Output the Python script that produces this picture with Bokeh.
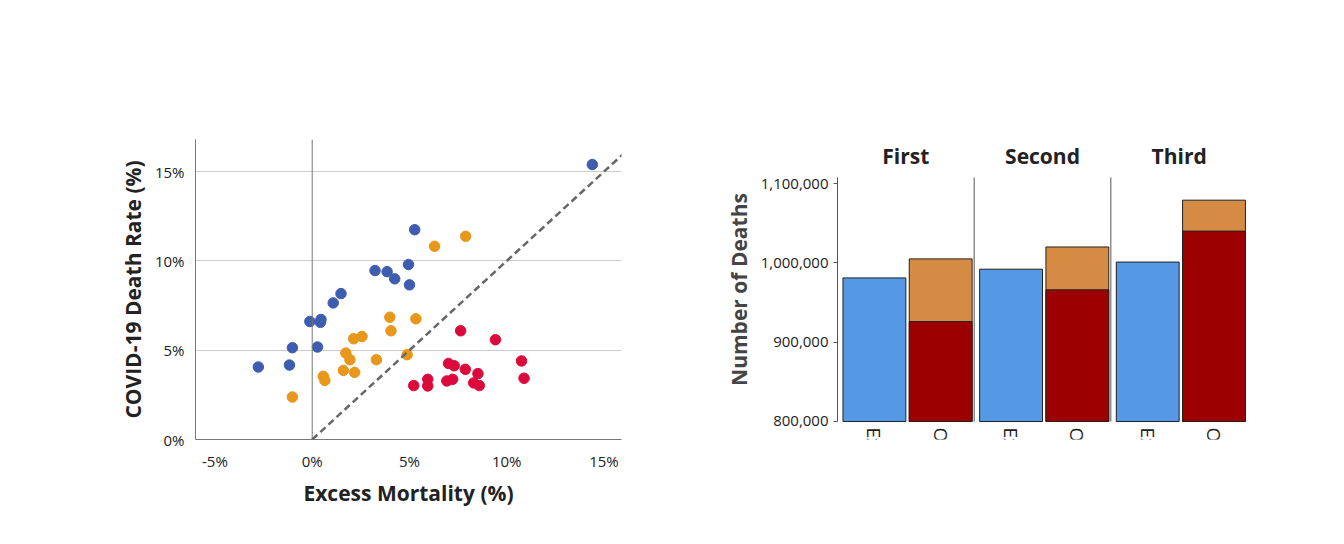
import math
from bokeh.plotting import figure
from bokeh.layouts import row
from bokeh.models import (Span, Label, Legend, LegendItem,
                          FixedTicker, NumeralTickFormatter, Range1d, Slope)
from bokeh.embed import file_html
from bokeh.resources import INLINE

FONT = "Open Sans"

# ---- Panel A data: excess mortality (%) vs COVID-19 death rate (%)
y1_x = [14.4, 5.27, 3.23, 3.85, 4.24, 4.95, 5.0, 1.48, 1.08, -0.12, 0.45, 0.42, -1.02, 0.27, -2.77, -1.17]
y1_y = [15.4, 11.75, 9.46, 9.40, 9.0, 9.8, 8.66, 8.17, 7.65, 6.61, 6.72, 6.56, 5.14, 5.18, 4.06, 4.17]
y2_x = [7.89, 6.29, 3.99, 5.33, 4.05, 2.13, 2.56, 1.73, 1.94, 3.30, 4.88, 1.60, 2.18, 0.57, 0.65, -1.02]
y2_y = [11.38, 10.82, 6.85, 6.76, 6.09, 5.64, 5.77, 4.84, 4.47, 4.47, 4.75, 3.87, 3.76, 3.54, 3.31, 2.38]
y3_x = [7.63, 9.42, 10.76, 10.89, 7.01, 7.30, 7.87, 8.52, 5.94, 5.94, 5.22, 6.92, 7.22, 8.30, 8.59]
y3_y = [6.09, 5.59, 4.40, 3.43, 4.26, 4.13, 3.93, 3.69, 3.37, 3.00, 3.02, 3.28, 3.37, 3.17, 3.02]
a_xticks = [-5, 0, 5, 10, 15]
a_yticks = [0, 5, 10, 15]

# ---- Panel B data
years = ["First", "Second", "Third"]
bar_names = ["Expected", "Observed"]
expected = [981000, 992000, 1001000]
observed_noncovid = [926000, 966000, 1040000]
observed_total = [1005000, 1020000, 1079000]
b_yticks = [800000, 900000, 1000000, 1100000]

BLUE, ORANGE, RED = "#3f5db0", "#e8971b", "#dc0a3c"

# ================= Panel A
pa = figure(width=652, height=528, output_backend="svg", toolbar_location=None,
            x_range=Range1d(-6.0, 15.9), y_range=Range1d(0, 16.8),
            min_border_left=195, min_border_right=31, min_border_top=139, min_border_bottom=89)
pa.outline_line_color = None
pa.xgrid.grid_line_color = None
pa.ygrid.grid_line_color = "#cccccc"
pa.ygrid.ticker = FixedTicker(ticks=a_yticks)
pa.xaxis.ticker = FixedTicker(ticks=a_xticks)
pa.yaxis.ticker = FixedTicker(ticks=a_yticks)
pa.xaxis.major_label_overrides = {t: f"{t}%" for t in a_xticks}
pa.yaxis.major_label_overrides = {t: f"{t}%" for t in a_yticks}
for ax in (pa.xaxis, pa.yaxis):
    ax.major_tick_line_color = None
    ax.minor_tick_line_color = None
    ax.axis_line_color = "#777777"
    ax.major_label_text_font = FONT
    ax.major_label_text_font_size = "15px"
    ax.major_label_text_color = "#222222"
    ax.axis_label_text_font = FONT
    ax.axis_label_text_font_size = "21px"
    ax.axis_label_text_font_style = "bold"
    ax.axis_label_text_color = "#222222"
pa.xaxis.axis_label = "Excess Mortality (%)"
pa.yaxis.axis_label = "COVID-19 Death Rate (%)"
pa.add_layout(Span(location=0, dimension="height", line_color="#777777", line_width=1))
pa.add_layout(Slope(gradient=1, y_intercept=0, line_color="#666666", line_width=2.5, line_dash="7 4"))
r1 = pa.scatter(y1_x, y1_y, size=10.5, color=BLUE)
r2 = pa.scatter(y2_x, y2_y, size=10.5, color=ORANGE)
r3 = pa.scatter(y3_x, y3_y, size=10.5, color=RED)
lega = Legend(items=[LegendItem(label="First Pandemic Year", renderers=[r1]),
                     LegendItem(label="Second Pandemic Year", renderers=[r2]),
                     LegendItem(label="Third Pandemic Year", renderers=[r3])],
              location=(70, 325), margin=0, padding=0, spacing=10, glyph_width=20, glyph_height=22,
              label_standoff=6, label_text_font=FONT, label_text_font_size="20px",
              label_text_color="#222222", border_line_color=None, background_fill_alpha=0)
pa.add_layout(lega)
pa.add_layout(Label(x=-10.5, y=22.8, text="A", text_font=FONT, text_font_size="32px",
                    text_font_style="bold", text_align="center", text_baseline="middle"))

# ================= Panel B (same borders as A; y range padded so bars sit in the right place)
YB0, YB1 = 800000, 1107600
pb = figure(width=676, height=528, output_backend="svg", toolbar_location=None,
            x_range=Range1d(0, 3), y_range=Range1d(777300, 1155500),
            min_border_left=185, min_border_right=81, min_border_top=139, min_border_bottom=89)
pb.outline_line_color = None
pb.grid.grid_line_color = None
xe = [i + 0.27 for i in range(3)]
xo = [i + 0.755 for i in range(3)]
pb.vbar(x=xe, top=expected, bottom=YB0, width=0.46, fill_color="#5599e6", line_color="#222222", line_width=1)
rc = pb.vbar(x=xo, top=observed_total, bottom=YB0, width=0.46, fill_color="#d68b44", line_color="#222222", line_width=1)
rn = pb.vbar(x=xo, top=observed_noncovid, bottom=YB0, width=0.46, fill_color="#9c0000", line_color="#222222", line_width=1)
pb.segment(x0=[1, 2], x1=[1, 2], y0=[YB0, YB0], y1=[YB1, YB1], line_color="#555555", line_width=1)
pb.xaxis.visible = False
for i in range(3):
    for xv, nm in ((xe[i], bar_names[0]), (xo[i], bar_names[1])):
        pb.add_layout(Label(x=xv, y=YB0 - 6 * 1261, text=nm, angle=-math.pi / 2, text_font=FONT,
                            text_font_size="19px", text_align="left", text_baseline="middle",
                            text_color="#222222"))
pb.yaxis.ticker = FixedTicker(ticks=b_yticks)
pb.yaxis.bounds = (YB0, YB1)
pb.yaxis.formatter = NumeralTickFormatter(format="0,0")
pb.yaxis.axis_label = "Number of Deaths"
ax = pb.yaxis
ax.minor_tick_line_color = None
ax.major_label_text_font = FONT
ax.major_label_text_color = "#222222"
ax.axis_label_text_font = FONT
ax.axis_label_text_font_size = "21px"
ax.axis_label_text_font_style = "bold"
ax.major_label_text_font_size = "15px"
ax.major_tick_line_color = "#555555"
ax.major_tick_in = 0
ax.major_tick_out = 4
ax.axis_line_color = "#555555"
legb = Legend(items=[LegendItem(label="Reported COVID-19 Deaths", renderers=[rc]),
                     LegendItem(label="Reported Non-COVID Deaths", renderers=[rn])],
              location=(17, 350), margin=0, padding=0, spacing=11, glyph_width=26, glyph_height=26,
              label_standoff=9, label_text_font=FONT, label_text_font_size="20px",
              label_text_color="#222222", border_line_color=None, background_fill_alpha=0)
pb.add_layout(legb)
for i, yname in enumerate(years):
    pb.add_layout(Label(x=i + 0.5, y=1135300, text=yname, text_font=FONT, text_font_size="21px",
                        text_font_style="bold", text_align="center", text_baseline="middle", text_color="#222222"))
pb.add_layout(Label(x=1.5, y=1180700, text="Pandemic Year", text_font=FONT, text_font_size="22px",
                    text_font_style="bold", text_align="center", text_baseline="middle", text_color="#222222"))
pb.add_layout(Label(x=-1.0, y=1293000, text="B", text_font=FONT, text_font_size="32px",
                    text_font_style="bold", text_align="center", text_baseline="middle"))

layout = row(pa, pb, spacing=0)
open("out.html", "w").write(file_html(layout, INLINE))
